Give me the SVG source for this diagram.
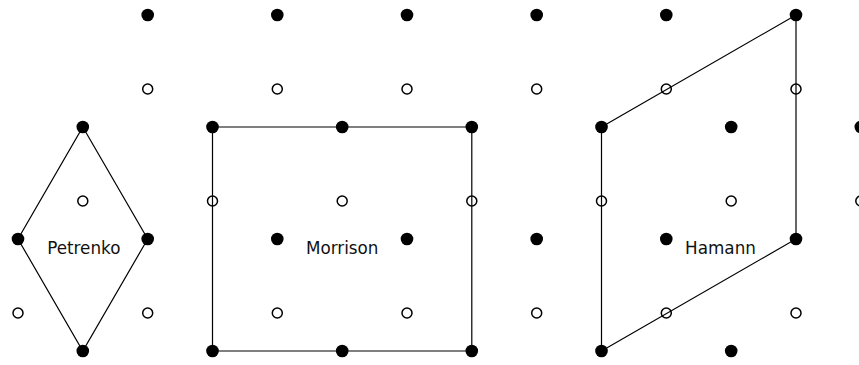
<svg xmlns="http://www.w3.org/2000/svg" width="859" height="365" viewBox="0 0 859 365">
<style>
.f{fill:#000}
.o{fill:none;stroke:#000;stroke-width:1.5}
.e{fill:none;stroke:#000;stroke-width:1.2}
.t{font-family:"DejaVu Sans",sans-serif;font-size:16.8px;fill:#111;text-anchor:middle}
</style>
<rect width="859" height="365" fill="#fff"/>
<g id="connectors">
<polygon class="e" points="82.8,127 147.7,239 82.8,351 18,239"/>
<polygon class="e" points="212.5,127 471.8,127 471.8,351 212.5,351"/>
<polygon class="e" points="601.5,127 796,15 796,239 601.5,351"/>
</g>
<g id="dots">
<circle class="f" cx="147.7" cy="15" r="6.3"/><circle class="f" cx="277.3" cy="15" r="6.3"/><circle class="f" cx="407" cy="15" r="6.3"/><circle class="f" cx="536.7" cy="15" r="6.3"/><circle class="f" cx="666.3" cy="15" r="6.3"/><circle class="f" cx="796" cy="15" r="6.3"/>
<circle class="o" cx="147.7" cy="89" r="5"/><circle class="o" cx="277.3" cy="89" r="5"/><circle class="o" cx="407" cy="89" r="5"/><circle class="o" cx="536.7" cy="89" r="5"/><circle class="o" cx="666.3" cy="89" r="5"/><circle class="o" cx="796" cy="89" r="5"/>
<circle class="f" cx="82.8" cy="127" r="6.3"/><circle class="f" cx="212.5" cy="127" r="6.3"/><circle class="f" cx="342.2" cy="127" r="6.3"/><circle class="f" cx="471.8" cy="127" r="6.3"/><circle class="f" cx="601.5" cy="127" r="6.3"/><circle class="f" cx="731.2" cy="127" r="6.3"/><circle class="f" cx="860.8" cy="127" r="6.3"/>
<circle class="o" cx="82.8" cy="201" r="5"/><circle class="o" cx="212.5" cy="201" r="5"/><circle class="o" cx="342.2" cy="201" r="5"/><circle class="o" cx="471.8" cy="201" r="5"/><circle class="o" cx="601.5" cy="201" r="5"/><circle class="o" cx="731.2" cy="201" r="5"/><circle class="o" cx="860.8" cy="201" r="5"/>
<circle class="f" cx="18" cy="239" r="6.3"/><circle class="f" cx="147.7" cy="239" r="6.3"/><circle class="f" cx="277.3" cy="239" r="6.3"/><circle class="f" cx="407" cy="239" r="6.3"/><circle class="f" cx="536.7" cy="239" r="6.3"/><circle class="f" cx="666.3" cy="239" r="6.3"/><circle class="f" cx="796" cy="239" r="6.3"/>
<circle class="o" cx="18" cy="313" r="5"/><circle class="o" cx="147.7" cy="313" r="5"/><circle class="o" cx="277.3" cy="313" r="5"/><circle class="o" cx="407" cy="313" r="5"/><circle class="o" cx="536.7" cy="313" r="5"/><circle class="o" cx="666.3" cy="313" r="5"/><circle class="o" cx="796" cy="313" r="5"/>
<circle class="f" cx="82.8" cy="351" r="6.3"/><circle class="f" cx="212.5" cy="351" r="6.3"/><circle class="f" cx="342.2" cy="351" r="6.3"/><circle class="f" cx="471.8" cy="351" r="6.3"/><circle class="f" cx="601.5" cy="351" r="6.3"/><circle class="f" cx="731.2" cy="351" r="6.3"/>
</g>
<g id="petrenko"><text class="t" x="83.8" y="254">Petrenko</text></g>
<g id="morrison"><text class="t" x="342.2" y="254">Morrison</text></g>
<g id="hamann"><text class="t" x="720.5" y="254">Hamann</text></g>
</svg>
